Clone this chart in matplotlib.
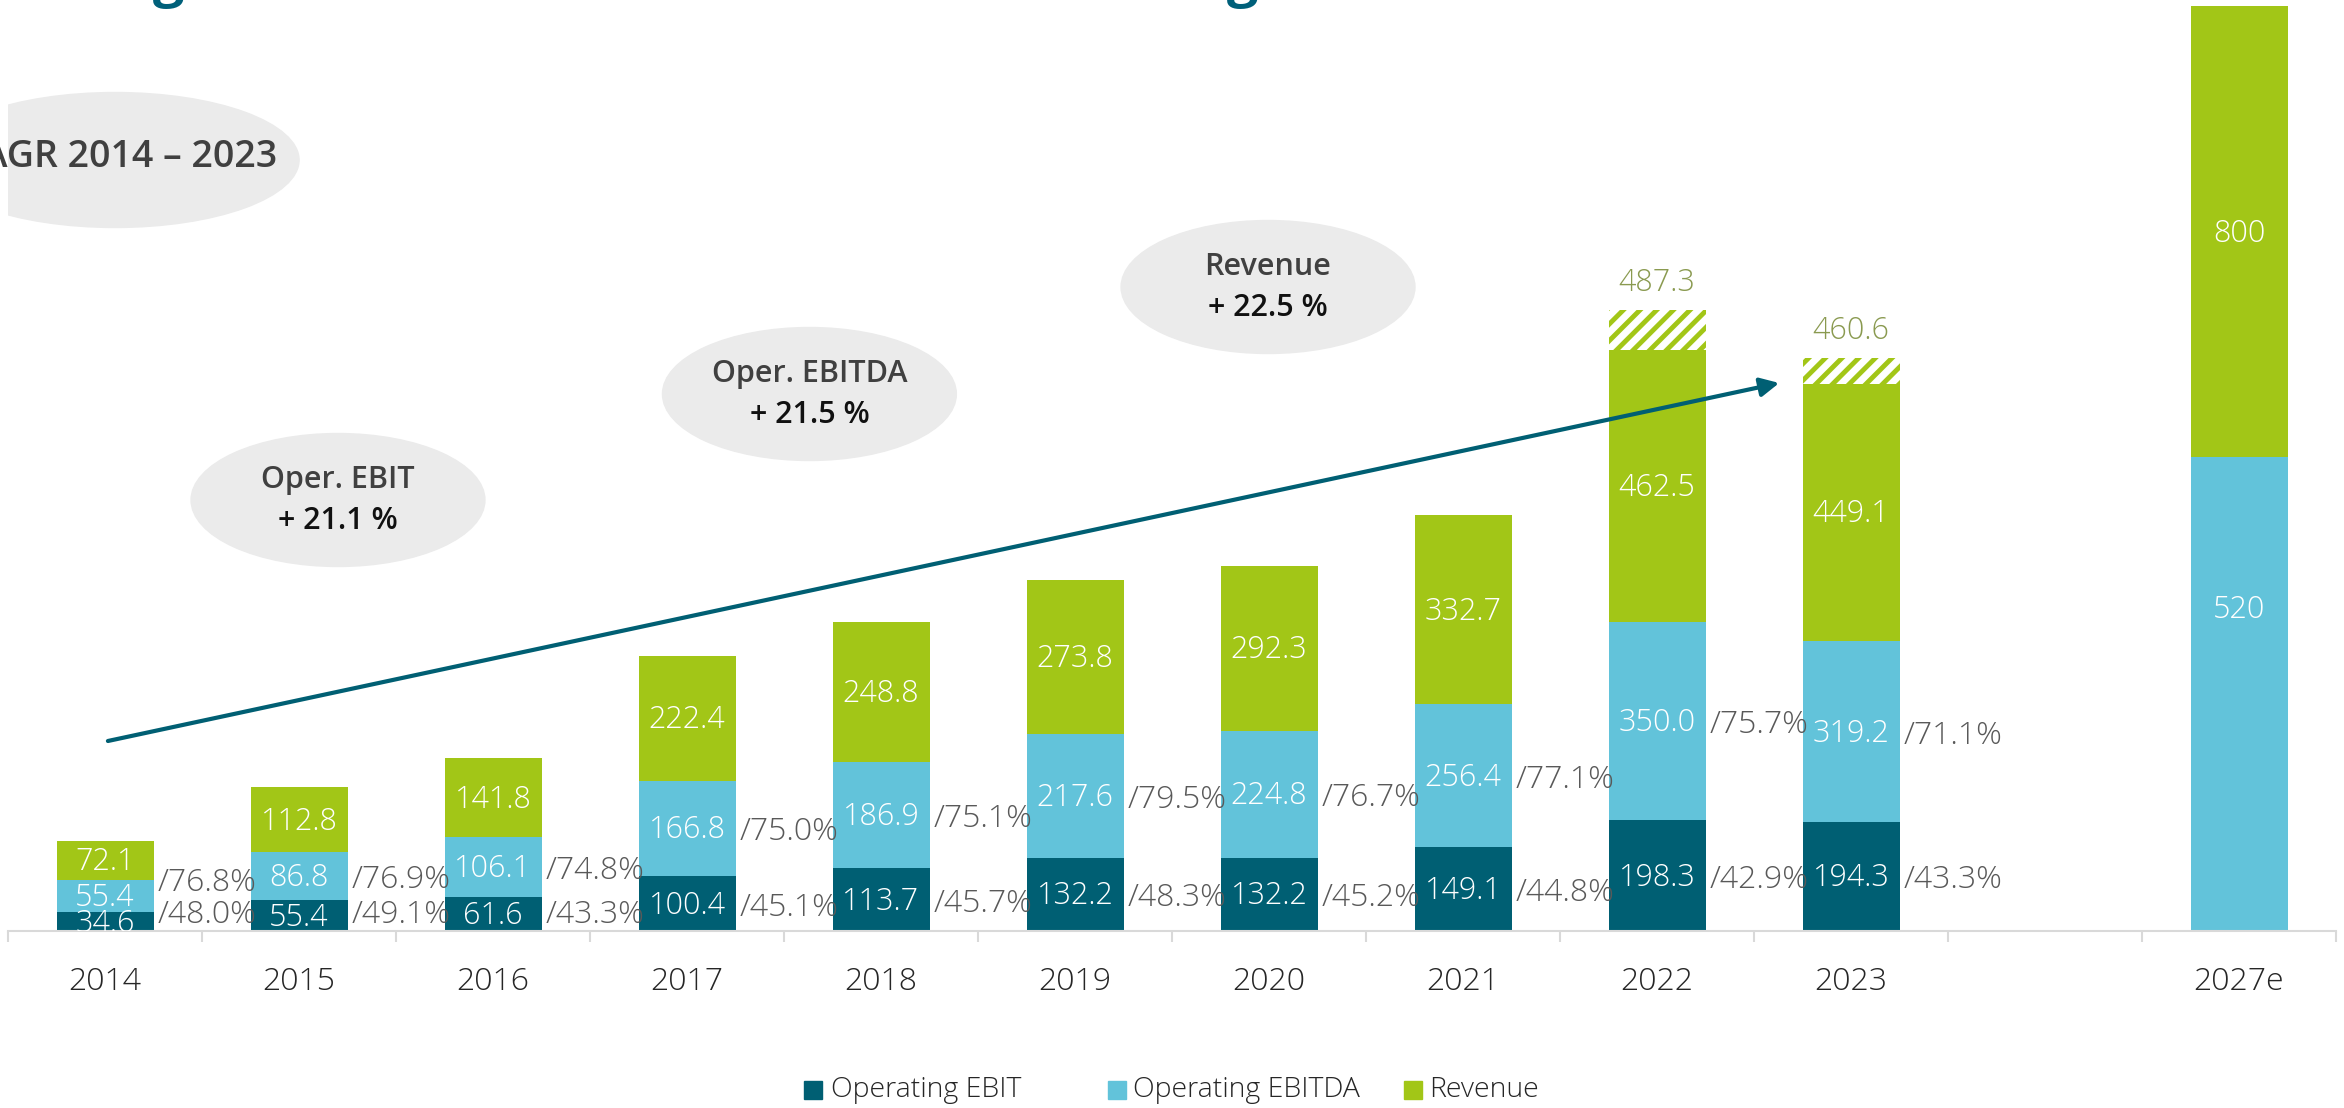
import numpy as np
import matplotlib
matplotlib.use("Agg")
import matplotlib.pyplot as plt
from matplotlib import font_manager as fm
from matplotlib.patches import Ellipse, FancyArrowPatch, Rectangle

years = ["2014", "2015", "2016", "2017", "2018", "2019", "2020", "2021", "2022", "2023", "2027e"]

# bar heights as drawn in the original (the chart is not to scale)
ebit_h = [19, 31, 34, 55, 63, 73, 73, 84, 111, 109, 0]
ebitda_h = [51, 79, 94, 150, 169, 197, 200, 227, 309, 290, 474]
revenue_h = [90, 144, 173, 275, 309, 351, 365, 416, 581, 547, 925]
revenue_ext_h = [621, 573]  # hatched part, 2022 and 2023

ebit_lbl = ["34.6", "55.4", "61.6", "100.4", "113.7", "132.2", "132.2", "149.1", "198.3", "194.3", ""]
ebitda_lbl = ["55.4", "86.8", "106.1", "166.8", "186.9", "217.6", "224.8", "256.4", "350.0", "319.2", "520"]
revenue_lbl = ["72.1", "112.8", "141.8", "222.4", "248.8", "273.8", "292.3", "332.7", "462.5", "449.1", "800"]
ebit_margin = ["48.0", "49.1", "43.3", "45.1", "45.7", "48.3", "45.2", "44.8", "42.9", "43.3", ""]
ebitda_margin = ["76.8", "76.9", "74.8", "75.0", "75.1", "79.5", "76.7", "77.1", "75.7", "71.1", ""]
revenue_total = ["487.3", "460.6"]

cagr_names = ["Oper. EBIT", "Oper. EBITDA", "Revenue"]
cagr_values = ["+ 21.1 %", "+ 21.5 %", "+ 22.5 %"]
series = ["Operating EBIT", "Operating EBITDA", "Revenue"]

C_EBIT = "#005F73"
C_EBITDA = "#62C3DA"
C_REV = "#A2C617"
C_GREY = "#595959"

# pick a family that has a real light face (the original uses a thin font)
LIGHT = "Open Sans"
for fam in ["Open Sans", "Noto Sans", "Lato", "Roboto", "Inter"]:
    if any(f.name == fam and f.weight in (200, 300, "light", "extra-light")
           for f in fm.fontManager.ttflist):
        LIGHT = fam
        break

plt.rcParams["font.family"] = ["Open Sans", "DejaVu Sans"]
plt.rcParams["hatch.linewidth"] = 3.5

W, H = 2344, 1108
BASE = 931  # baseline in pixels from top

fig = plt.figure(figsize=(W / 100, H / 100), dpi=100)
ax = fig.add_axes([8 / W, 1 - BASE / H, 2328 / W, BASE / H])
ax.set_xlim(-0.5, 11.5)
ax.set_ylim(0, BASE)

x = np.arange(len(years))
x[-1] += 1  # empty slot before 2027e

ebit_h = np.array(ebit_h)
ebitda_h = np.array(ebitda_h)
revenue_h = np.array(revenue_h)

bw = 0.5
ax.bar(x, ebit_h, width=bw, color=C_EBIT)
ax.bar(x, ebitda_h - ebit_h, bottom=ebit_h, width=bw, color=C_EBITDA)
ax.bar(x, revenue_h - ebitda_h, bottom=ebitda_h, width=bw, color=C_REV)
ax.bar(x[8:10], np.array(revenue_ext_h) - revenue_h[8:10], bottom=revenue_h[8:10], width=bw,
       facecolor="white", edgecolor=C_REV, hatch="//", linewidth=0)

light = dict(family=[LIGHT, "DejaVu Sans"], fontweight="light")
fs = 22
for i, xi in enumerate(x):
    segs = [(0, ebit_h[i], ebit_lbl[i]), (ebit_h[i], ebitda_h[i], ebitda_lbl[i]),
            (ebitda_h[i], revenue_h[i], revenue_lbl[i])]
    for lo, hi, txt in segs:
        if not txt:
            continue
        yc = (lo + hi) / 2 - 2
        if years[i] == "2027e" and lo == 0:
            yc = 321
        ax.text(xi, yc, txt, ha="center", va="center", color="white", fontsize=fs,
                clip_on=True, **light)
    if ebit_margin[i]:
        y1 = max((ebit_h[i]) / 2 - 4, 16)
        y2 = max((ebit_h[i] + ebitda_h[i]) / 2 - 4, 48)
        ax.text(xi + bw / 2 + 0.02, y1, "/" + ebit_margin[i] + "%", ha="left", va="center",
                color=C_GREY, fontsize=fs + 1, **light)
        ax.text(xi + bw / 2 + 0.02, y2, "/" + ebitda_margin[i] + "%", ha="left", va="center",
                color=C_GREY, fontsize=fs + 1, **light)

for xi, top, txt in zip(x[8:10], revenue_ext_h, revenue_total):
    ax.text(xi, top + 27, txt, ha="center", va="center", color="#8A9A50", fontsize=fs, **light)

# CAGR bubbles
ax.add_patch(Ellipse((0.052, 771), 1.897, 135, color="#EBEBEB", zorder=0))
ax.text(0.887, 774, "CAGR 2014 \u2013 2023", ha="right", va="center", fontsize=27,
        fontweight="semibold", color="#404040")
bubbles = [(1.201, 431), (3.631, 537), (5.995, 644)]
for (bx, by), name, val in zip(bubbles, cagr_names, cagr_values):
    ax.add_patch(Ellipse((bx, by), 1.515, 133, color="#EBEBEB", zorder=0))
    ax.text(bx, by + 20, name, ha="center", va="center", fontsize=22, fontweight="semibold",
            color="#404040")
    ax.text(bx, by - 21, val, ha="center", va="center", fontsize=22, fontweight="semibold",
            color="#111111")

arrow = FancyArrowPatch((0.015, 190), (8.63, 548), arrowstyle="-|>", mutation_scale=28,
                        lw=3, color=C_EBIT, shrinkA=0, shrinkB=0, zorder=5)
ax.add_patch(arrow)

# axis styling
for s in ["top", "right", "left"]:
    ax.spines[s].set_visible(False)
ax.spines["bottom"].set_color("#D9D9D9")
ax.spines["bottom"].set_linewidth(1.5)
ax.set_yticks([])
ax.set_xticks(x)
ax.set_xticklabels(years, fontsize=23, color="#262626", **light)
ax.tick_params(axis="x", which="major", length=0, pad=25)
ax.set_xticks(np.arange(-0.5, 12, 1), minor=True)
ax.tick_params(axis="x", which="minor", length=8, width=1.5, color="#D9D9D9")

# legend, laid out by hand like the original
leg_y = 1 - 1090 / H
for sq_x, txt_x, col, name in zip([804, 1108, 1404], [831, 1133, 1429],
                                  [C_EBIT, C_EBITDA, C_REV], series):
    fig.patches.append(Rectangle((sq_x / W, leg_y - 9 / H), 18 / W, 18 / H, color=col,
                                 transform=fig.transFigure))
    fig.text(txt_x / W, leg_y, name, ha="left", va="center", fontsize=20.5, color="#262626",
             **light)

# cut-off title glyphs at the very top
for gx in [169, 1243]:
    fig.text(gx / W, 1 + 4 / H, "g", ha="center", va="baseline", fontsize=40,
             fontweight="bold", color="#00607A")

fig.savefig("out.png", dpi=100)
